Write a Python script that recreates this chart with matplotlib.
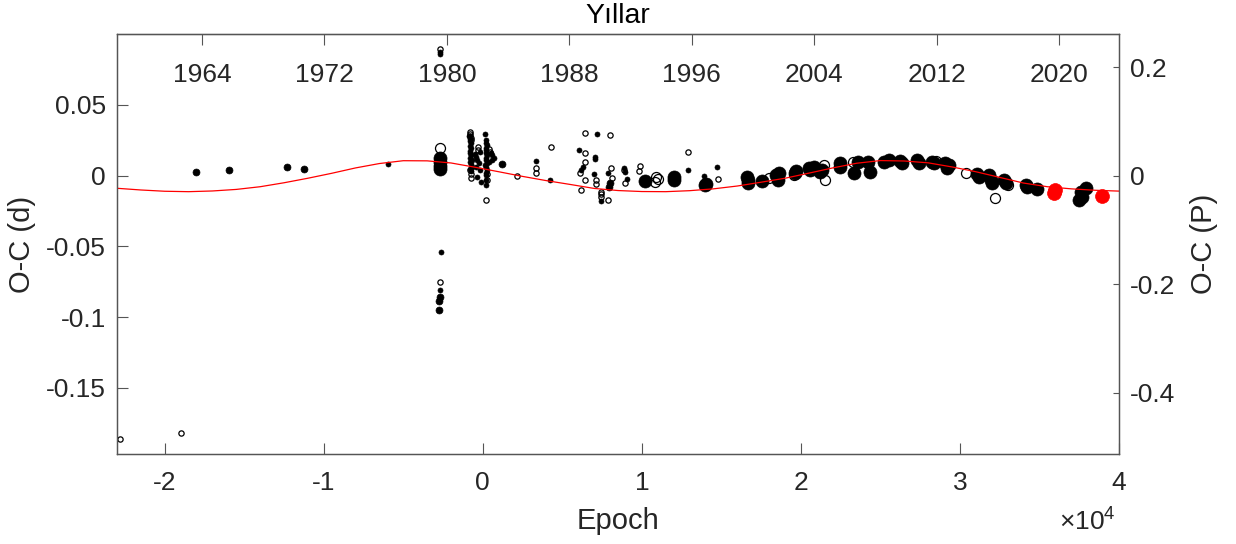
import numpy as np
import matplotlib
matplotlib.use('Agg')
import matplotlib.pyplot as plt

plt.rcParams['font.family'] = ['Liberation Sans', 'DejaVu Sans']
plt.rcParams['mathtext.fontset'] = 'custom'
plt.rcParams['mathtext.rm'] = 'Liberation Sans'
plt.rcParams['axes.unicode_minus'] = False

# ---------------- data ----------------
# filled, small markers
fs_epoch = [-5970, -2700, -2700, -2650, -2700,
            -850, -780, -820, -760, -800, -740, -830, -790, -760, -810, -700, -780, -740, -690, -800, -720,
            -450, -350, -250, -400, -150, -350, -100, -200, -500,
            150, 180, 210, 240, 200, 230, 170, 260, 190, 220, 250, 160, 210, 240, 180, 230, 200, 210,
            520, 585, 690, 420, 600,
            3350, 4240,
            7190, 6036, 7042, 7042, 6287, 6200, 6980, 7430, 7880, 8870, 8930, 9075,
            12890, 13915, 14730]
fs_oc = [0.0085, 0.0877, 0.0860, -0.0542, -0.0806,
         0.0280, 0.0262, 0.0245, 0.0228, 0.0210, 0.0195, 0.0178, 0.0160, 0.0145, 0.0128, 0.0112, 0.0095, 0.0080, 0.0062, 0.0045, 0.0030,
         0.0130, 0.0110, 0.0090, 0.0060, 0.0040, -0.0007, -0.0042, 0.0165, 0.0150,
         0.0294, 0.0250, 0.0232, 0.0215, 0.0198, 0.0180, 0.0163, 0.0145, 0.0128, 0.0110, 0.0093, 0.0075, 0.0058, 0.0040, 0.0022, 0.0005, -0.0030, -0.0066,
         0.0160, 0.0146, 0.0123, 0.0099, 0.0110,
         0.0104, -0.0030,
         0.0293, 0.0182, 0.0134, 0.0116, 0.0064, 0.0040, 0.0012, -0.0179, 0.0021, 0.0052, 0.0028, -0.0025,
         0.0040, -0.0002, 0.0064]

# filled, medium markers
fm_epoch = [-18030, -15970, -12320, -11240, 1215, -2700, -2740, -2750, 7966, 7920]
fm_oc = [0.0028, 0.0040, 0.0064, 0.0050, 0.0081, -0.0860, -0.0885, -0.0952, -0.0054, -0.0078]

# filled, large markers
fl_epoch = [-2700, -2700, -2700, -2700,
            10185, 12010, 12040, 14040, 14000,
            16600, 16650, 16700, 17560, 18450, 18550, 18650, 19700, 19650,
            20500, 20600, 20800, 21200, 21350, 22450, 22450, 23350, 23600, 24230, 24340,
            25200, 25530, 26260, 26360, 27300, 27400, 28260, 28360, 29080, 29180, 29290,
            31080, 31190, 31850, 31930, 32040, 32750, 32900, 34130, 34230, 34850,
            37580, 37690, 37900, 37480]
fl_oc = [0.0123, 0.0099, 0.0069, 0.0045,
         -0.0035, -0.0010, -0.0030, -0.0059, -0.0066,
         -0.0011, -0.0030, -0.0049, -0.0035, 0.0005, -0.0030, 0.0017, 0.0035, 0.0017,
         0.0052, 0.0040, 0.0064, 0.0028, 0.0040, 0.0088, 0.0064, 0.0017, 0.0099, 0.0099, 0.0028,
         0.0099, 0.0111, 0.0106, 0.0088, 0.0111, 0.0088, 0.0099, 0.0088, 0.0088, 0.0052, 0.0076,
         0.0012, -0.0007, 0.0005, -0.0030, -0.0054, -0.0030, -0.0049, -0.0066, -0.0078, -0.0096,
         -0.0113, -0.0148, -0.0089, -0.0172]

# open, small markers
os_epoch = [-22823, -18970, -2720, -2670,
            -800, -790, -780, -760, -740, -820, -720, -760,
            -300, -330, 260, 220, 250, 380, 450,
            2160, 3350, 3350, 4260,
            6413, 7966, 6413, 6413, 6100, 7090, 7090, 6413, 6162, 7400, 7400, 7400, 7880, 8090, 8110,
            8900, 8930, 9875, 9830, 12910, 14770]
os_oc = [-0.1862, -0.1818, 0.0895, -0.0752,
         0.0310, 0.0296, 0.0281, 0.0265, 0.0250, 0.0040, 0.0010, -0.0017,
         0.0205, 0.0185, -0.0030, -0.0172, 0.0010, 0.0190, 0.0170,
         -0.0005, 0.0057, 0.0021, 0.0201,
         0.0304, 0.0288, 0.0163, 0.0099, 0.0017, -0.0030, -0.0061, -0.0030, -0.0101, -0.0113, -0.0129, -0.0153, -0.0172, 0.0057, -0.0018,
         0.0040, -0.0054, 0.0071, 0.0033, 0.0170, -0.0021]

# open, large markers
ol_epoch = [-2680, 10900, 11000, 10800, 17980, 19550, 21430, 21530, 23290, 28500, 30350, 32200, 33050]
ol_oc = [0.0194, -0.0007, -0.0025, -0.0042, -0.0018, 0.0005, 0.0076, -0.0030, 0.0099, 0.0106, 0.0021, -0.0156, -0.0066]

# new minima (red)
new_epoch = [35950, 35900, 38910]
new_oc = [-0.0101, -0.0120, -0.0144]

# fitted curve
fit_epoch = [-23000, -21500, -20000, -18500, -17000, -15500, -14000, -12500, -11000, -9500,
             -8000, -6500, -5000, -3500, -2000, -500, 1000, 2500, 4000, 5500,
             7000, 8500, 10000, 11500, 13000, 14500, 16000, 17500, 19000, 20500,
             22000, 23500, 25000, 26500, 28000, 29500, 31000, 32500, 34000, 35500,
             37000, 38500, 40000]
fit_oc = [-0.0089, -0.0101, -0.0110, -0.0113, -0.0108, -0.0097, -0.0078, -0.0050, -0.0018, 0.0017,
          0.0055, 0.0086, 0.0106, 0.0105, 0.0090, 0.0060, 0.0028, -0.0005, -0.0035, -0.0062,
          -0.0090, -0.0105, -0.0112, -0.0113, -0.0106, -0.0093, -0.0073, -0.0046, -0.0018, 0.0018,
          0.0055, 0.0088, 0.0107, 0.0104, 0.0091, 0.0062, 0.0028, -0.0012, -0.0052, -0.0078,
          -0.0093, -0.0103, -0.0109]

x_ticks = [-20000, -10000, 0, 10000, 20000, 30000, 40000]
x_ticklabels = ['-2', '-1', '0', '1', '2', '3', '4']
yl_ticks = [-0.15, -0.1, -0.05, 0, 0.05]
yl_ticklabels = ['-0.15', '-0.1', '-0.05', '0', '0.05']
yr_ticks = [-0.4, -0.2, 0, 0.2]
yr_ticklabels = ['-0.4', '-0.2', '0', '0.2']
year_ticks = [1964, 1972, 1980, 1988, 1996, 2004, 2012, 2020]

PERIOD = 0.384          # d, for the right axis
E1980 = -2263.0         # epoch of 1980.0
EPY = 962.7             # epochs per year

# ---------------- figure ----------------
W, H = 1236, 544
fig = plt.figure(figsize=(W / 100, H / 100), dpi=100)
L, R, T, B = 117, 1119, 34, 454
ax = fig.add_axes([L / W, 1 - B / H, (R - L) / W, (B - T) / H])

txt = '#262626'
spc = '#555555'

ax.plot(fs_epoch, fs_oc, 'o', ms=3.6, mfc='k', mec='k', mew=0.5, ls='none', zorder=3)
ax.plot(fm_epoch, fm_oc, 'o', ms=5.0, mfc='k', mec='k', mew=0.5, ls='none', zorder=3)
ax.plot(fl_epoch, fl_oc, 'o', ms=9.4, mfc='k', mec='k', mew=0.5, ls='none', zorder=3)
ax.plot(os_epoch, os_oc, 'o', ms=3.8, mfc='none', mec='k', mew=0.9, ls='none', zorder=3)
ax.plot(ol_epoch, ol_oc, 'o', ms=7.2, mfc='none', mec='k', mew=0.9, ls='none', zorder=3)
ax.plot(new_epoch, new_oc, 'o', ms=10.0, mfc='red', mec='red', mew=0.5, ls='none', zorder=3)
ax.plot(fit_epoch, fit_oc, '-', color='red', lw=0.9, zorder=4)

ylo, yhi = -0.1968, 0.1002
ax.set_xlim(-23000, 40000)
ax.set_ylim(ylo, yhi)
ax.set_xticks(x_ticks)
ax.set_xticklabels(x_ticklabels)
ax.set_yticks(yl_ticks)
ax.set_yticklabels(yl_ticklabels)
ax.tick_params(axis='x', direction='in', length=8, width=0.8, color=spc, labelcolor=txt,
               labelsize=19, pad=12, top=False)
ax.tick_params(axis='y', direction='in', length=8, width=0.8, color=spc, labelcolor=txt,
               labelsize=19, pad=8, right=False)
for s in ax.spines.values():
    s.set_color(spc)
    s.set_linewidth(0.9)

# right axis in units of period
ax2 = ax.twinx()
ax2.set_ylim(ylo / PERIOD, yhi / PERIOD)
ax2.set_yticks(yr_ticks)
ax2.set_yticklabels(yr_ticklabels)
ax2.tick_params(axis='y', direction='in', length=4.5, width=0.8, color=spc, labelcolor=txt,
                labelsize=19, pad=8)
for s in ax2.spines.values():
    s.set_color(spc)
    s.set_linewidth(0.9)

# top axis in years
def e2y(e):
    return 1980.0 + (np.asarray(e, dtype=float) - E1980) / EPY

def y2e(y):
    return E1980 + (np.asarray(y, dtype=float) - 1980.0) * EPY

sec = ax.secondary_xaxis('top', functions=(e2y, y2e))
sec.set_xticks(year_ticks)
sec.set_xticklabels([str(y) for y in year_ticks])
sec.tick_params(direction='in', length=8, width=0.8, color=spc, labelcolor=txt,
                labelsize=19, pad=-38)
sec.spines['top'].set_color(spc)

fig.text(618 / W, 1 - 16 / H, 'Yıllar', ha='center', va='center', fontsize=20.5, color='k')
fig.text(618 / W, 1 - 521 / H, 'Epoch', ha='center', va='center', fontsize=21, color=txt)
fig.text(22 / W, 1 - 244 / H, 'O-C (d)', ha='center', va='center', rotation=90, fontsize=21, color=txt)
fig.text(1204 / W, 1 - 244 / H, 'O-C (P)', ha='center', va='center', rotation=90, fontsize=21, color=txt)
fig.text(1116 / W, 1 - 522 / H, r'$\mathregular{\times10^{4}}$', ha='right', va='center',
         fontsize=19, color=txt)

fig.savefig('out.png', dpi=100)
